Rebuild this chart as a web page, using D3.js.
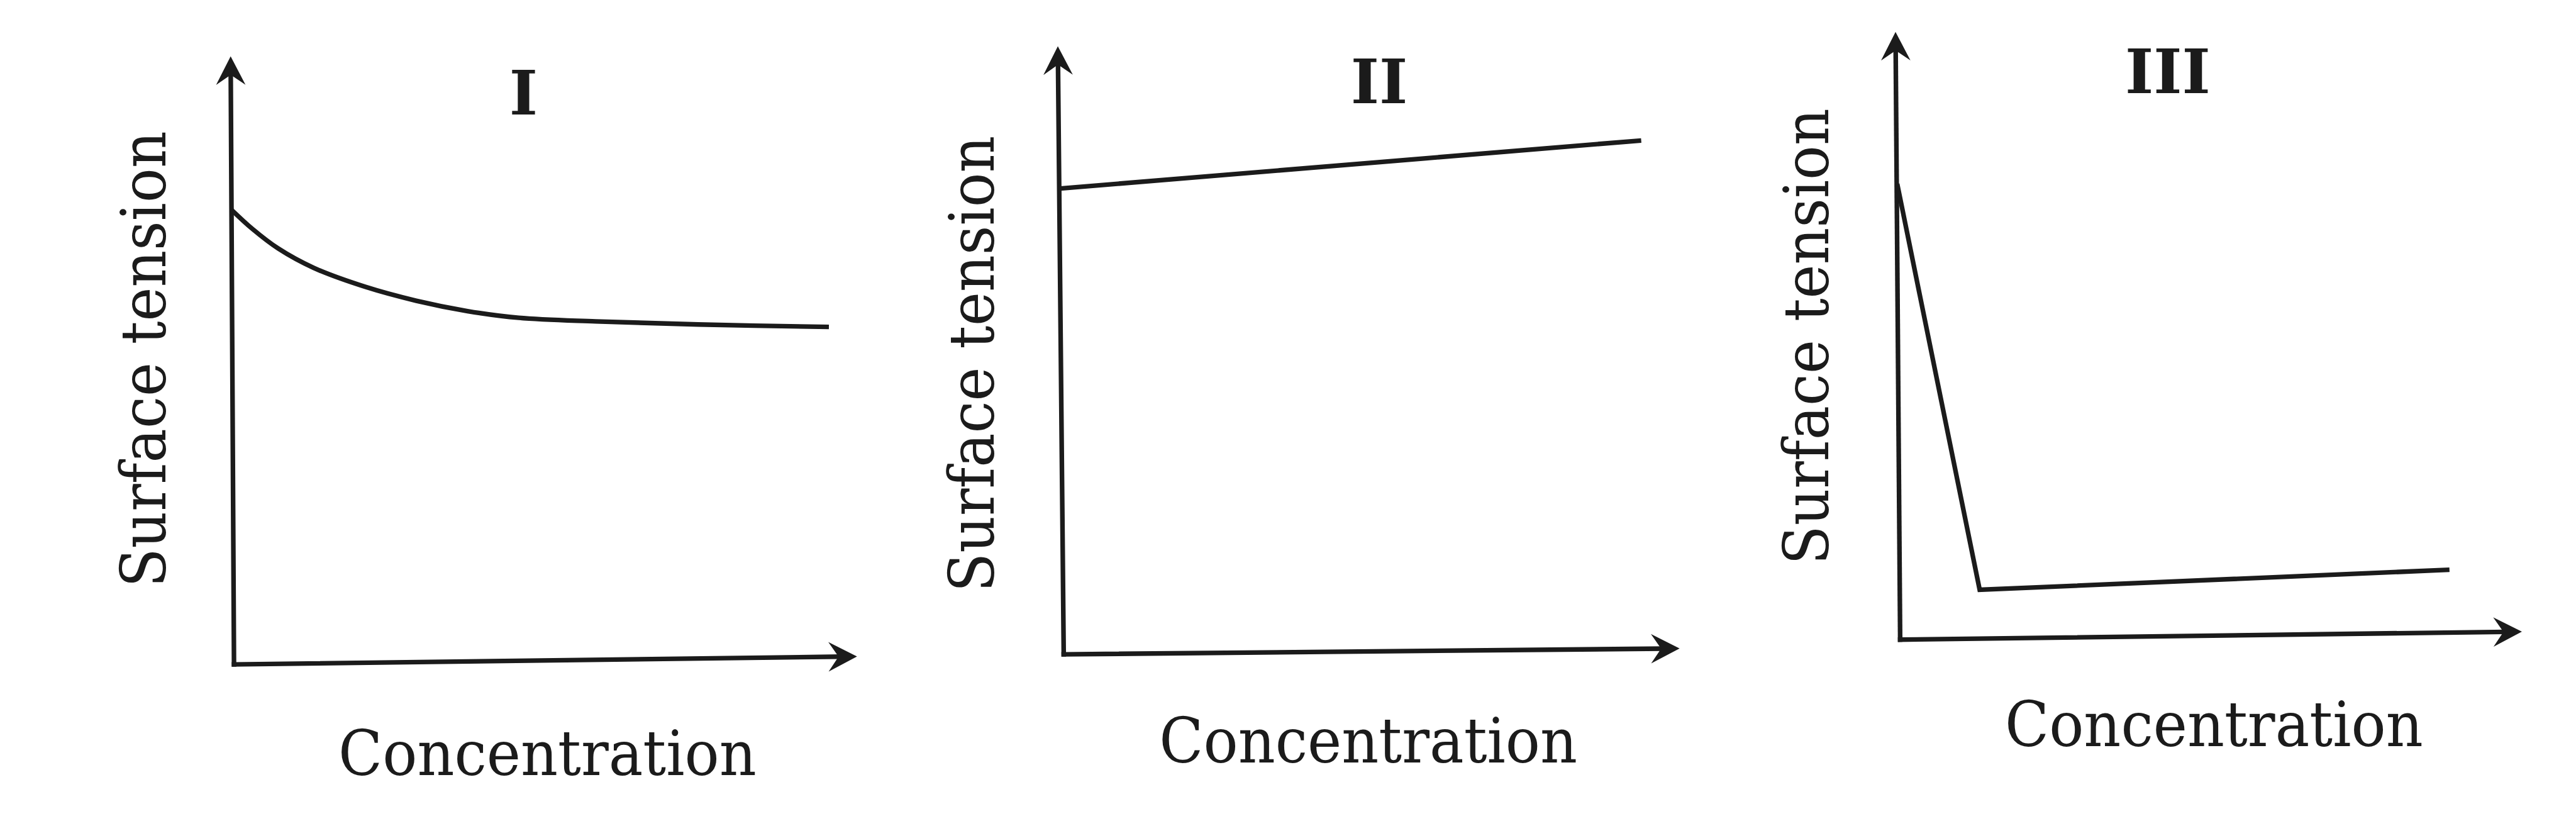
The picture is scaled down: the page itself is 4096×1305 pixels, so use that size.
<!DOCTYPE html>
<html>
<head>
<meta charset="utf-8">
<script src="https://cdn.jsdelivr.net/npm/d3@7"></script>
<style>html,body{margin:0;padding:0;background:#fff;overflow:hidden}</style>
</head>
<body>
<svg id="chart"></svg>
<script>
// ---------- data (values in % of each axis length) ----------
const panelTitles = ["I", "II", "III"];
const xAxisLabel = "Concentration";
const yAxisLabel = "Surface tension";
const axisDomain = [0, 100];

const curveIConc    = [0, 3.3, 7.4, 13.1, 21.3, 29.5, 37.7, 45.9, 58.2, 74.6, 95.5];
const curveITension = [74.7, 71.6, 68.4, 65.2, 62.1, 59.8, 58.1, 57.0, 56.4, 55.9, 55.5];

const lineIIConc    = [0, 93.8];
const lineIITension = [76.6, 84.5];

const lineIIIConc    = [0, 13.2, 88.4];
const lineIIITension = [75.0, 8.2, 11.5];

// ---------- layout (reference pixel units, scaled by 0.668) ----------
const S = 0.668;
const layout = [
  {originX: 557, originY: 1581, yTopX: 549, yTip: 134, xTip: 2040, xTipY: 1562, dataX0: 552,
   title: [1246, 272], xlab: [1303, 1845], ylab: [394, 855]},
  {originX: 2532, originY: 1557, yTopX: 2518, yTip: 110, xTip: 3998, xTipY: 1543, dataX0: 2524,
   title: [3283, 245], xlab: [3257, 1815], ylab: [2366, 866]},
  {originX: 4523, originY: 1522, yTopX: 4512, yTip: 76, xTip: 6003, xTipY: 1503, dataX0: 4516,
   title: [5160, 222], xlab: [5270, 1775], ylab: [4352, 801]}
];
const ink = "#1b1b1b";
const strokeW = 11;

const series = [
  {conc: curveIConc, tension: curveITension, curve: d3.curveCatmullRom.alpha(0.5)},
  {conc: lineIIConc, tension: lineIITension, curve: d3.curveLinear},
  {conc: lineIIIConc, tension: lineIIITension, curve: d3.curveLinear}
];

const svg = d3.select("#chart").attr("width", 4096).attr("height", 1305);
svg.append("rect").attr("width", 4096).attr("height", 1305).attr("fill", "#fff");
const root = svg.append("g").attr("transform", `scale(${S})`);

function arrowAxis(g, x1, y1, x2, y2) {
  const ang = Math.atan2(y2 - y1, x2 - x1);
  const back = 44;
  g.append("line")
    .attr("x1", x1).attr("y1", y1)
    .attr("x2", x2 - back * Math.cos(ang)).attr("y2", y2 - back * Math.sin(ang))
    .attr("stroke", ink).attr("stroke-width", strokeW).attr("stroke-linecap", "square");
  g.append("path")
    .attr("d", "M0,0 L-68,-35 L-44,0 L-68,35 Z")
    .attr("transform", `translate(${x2},${y2}) rotate(${ang * 180 / Math.PI})`)
    .attr("fill", ink);
}

layout.forEach((L, i) => {
  const g = root.append("g");
  const x = d3.scaleLinear().domain(axisDomain).range([L.dataX0, L.xTip]);
  const y = d3.scaleLinear().domain(axisDomain).range([L.originY, L.yTip]);

  arrowAxis(g, L.originX, L.originY, L.yTopX, L.yTip);
  arrowAxis(g, L.originX, L.originY, L.xTip, L.xTipY);

  const s = series[i];
  const pts = s.conc.map((c, k) => [c, s.tension[k]]);
  g.append("path")
    .datum(pts)
    .attr("d", d3.line().x(d => x(d[0])).y(d => y(d[1])).curve(s.curve))
    .attr("fill", "none").attr("stroke", ink).attr("stroke-width", strokeW)
    .attr("stroke-linejoin", "miter").attr("stroke-linecap", "butt");

  g.append("text")
    .attr("x", L.title[0]).attr("y", L.title[1])
    .attr("text-anchor", "middle")
    .attr("font-family", "'DejaVu Serif', serif").attr("font-weight", "bold")
    .attr("font-size", 145).attr("fill", ink)
    .text(panelTitles[i]);

  g.append("text")
    .attr("x", L.xlab[0]).attr("y", L.xlab[1])
    .attr("text-anchor", "middle")
    .attr("font-family", "'DejaVu Serif', serif")
    .attr("font-size", 148).attr("fill", ink)
    .attr("textLength", 995).attr("lengthAdjust", "spacingAndGlyphs")
    .text(xAxisLabel);

  g.append("text")
    .attr("transform", `translate(${L.ylab[0]},${L.ylab[1]}) rotate(-90)`)
    .attr("text-anchor", "middle")
    .attr("font-family", "'DejaVu Serif', serif")
    .attr("font-size", 148).attr("fill", ink)
    .attr("textLength", 1086).attr("lengthAdjust", "spacingAndGlyphs")
    .text(yAxisLabel);
});
</script>
</body>
</html>
